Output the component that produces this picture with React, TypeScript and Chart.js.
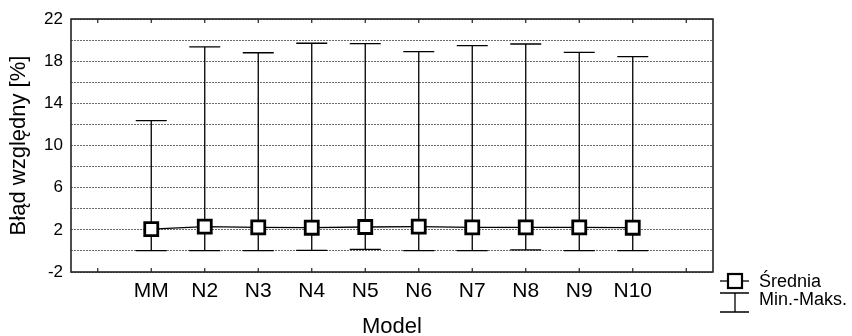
import React, { useEffect, useRef } from "react";
import { Chart, registerables } from "chart.js";

Chart.register(...registerables);

const categories = ["MM", "N2", "N3", "N4", "N5", "N6", "N7", "N8", "N9", "N10"];
const means = [2.06, 2.3, 2.24, 2.2, 2.27, 2.3, 2.24, 2.24, 2.24, 2.2];
const mins = [0.02, 0.02, 0.02, 0.06, 0.15, 0.02, 0.02, 0.09, 0.02, 0.02];
const maxs = [12.36, 19.35, 18.8, 19.7, 19.66, 18.9, 19.47, 19.63, 18.84, 18.43];
const yGridValues = [-2, 0, 2, 4, 6, 8, 10, 12, 14, 16, 18, 20, 22];
const yLabelValues = [-2, 2, 6, 10, 14, 18, 22];
const xTickMarks = [-1, 0, 1, 2, 3, 4, 5, 6, 7, 8, 9, 10];
const legendLabels = ["Średnia", "Min.-Maks."];

const FONT = "'Liberation Sans', Arial, sans-serif";

const customPlugin = {
  id: "custom",
  beforeDatasetsDraw(chart: any) {
    const { ctx, scales } = chart;
    const x = scales.x, y = scales.y;
    ctx.save();
    ctx.strokeStyle = "#000";
    ctx.lineWidth = 1.3;
    categories.forEach((_, i) => {
      const px = x.getPixelForValue(i);
      const top = y.getPixelForValue(maxs[i]);
      const bot = y.getPixelForValue(mins[i]);
      ctx.beginPath();
      ctx.moveTo(px, top);
      ctx.lineTo(px, bot);
      ctx.moveTo(px - 15.5, top);
      ctx.lineTo(px + 15.5, top);
      ctx.moveTo(px - 15.5, bot);
      ctx.lineTo(px + 15.5, bot);
      ctx.stroke();
    });
    ctx.restore();
  },
  afterDraw(chart: any) {
    const { ctx, chartArea, scales } = chart;
    const x = scales.x;
    const { left, right, top, bottom } = chartArea;
    ctx.save();
    ctx.strokeStyle = "#222";
    ctx.lineWidth = 1.6;
    ctx.strokeRect(left, top, right - left, bottom - top);
    ctx.lineWidth = 1.2;
    ctx.beginPath();
    xTickMarks.forEach((v) => {
      const px = x.getPixelForValue(v);
      ctx.moveTo(px, top);
      ctx.lineTo(px, top + 4);
      ctx.moveTo(px, bottom);
      ctx.lineTo(px, bottom - 4);
    });
    ctx.stroke();

    // legend
    const cx = right + 22;
    const y1 = bottom + 9;
    const y2 = bottom + 21;
    const y3 = bottom + 40;
    ctx.strokeStyle = "#000";
    ctx.lineWidth = 1.3;
    ctx.beginPath();
    ctx.moveTo(right + 7, y1);
    ctx.lineTo(right + 36, y1);
    ctx.stroke();
    ctx.fillStyle = "#fff";
    ctx.lineWidth = 2.2;
    ctx.fillRect(cx - 7, y1 - 7, 14, 14);
    ctx.strokeRect(cx - 7, y1 - 7, 14, 14);
    ctx.lineWidth = 1.3;
    ctx.beginPath();
    ctx.moveTo(right + 7, y2);
    ctx.lineTo(right + 36, y2);
    ctx.moveTo(cx, y2);
    ctx.lineTo(cx, y3);
    ctx.moveTo(right + 7, y3);
    ctx.lineTo(right + 36, y3);
    ctx.stroke();
    ctx.fillStyle = "#000";
    ctx.font = `18px ${FONT}`;
    ctx.textBaseline = "middle";
    ctx.textAlign = "left";
    ctx.fillText(legendLabels[0], right + 46, y1 + 1);
    ctx.fillText(legendLabels[1], right + 46, bottom + 28);
    ctx.restore();
  },
};

export default function App() {
  const ref = useRef<HTMLCanvasElement | null>(null);
  useEffect(() => {
    if (!ref.current) return;
    const chart = new Chart(ref.current, {
      type: "line",
      data: {
        datasets: [
          {
            label: legendLabels[0],
            data: means.map((m, i) => ({ x: i, y: m })),
            borderColor: "#000",
            borderWidth: 1.3,
            pointStyle: "rect",
            pointRadius: 9.2,
            pointHoverRadius: 9.2,
            pointBorderWidth: 2.8,
            pointBackgroundColor: "#fff",
            pointBorderColor: "#000",
            tension: 0,
          },
        ],
      },
      options: {
        animation: false,
        responsive: false,
        events: [],
        layout: { padding: { left: 0, top: 19, right: 139, bottom: 0 } },
        plugins: { legend: { display: false }, tooltip: { enabled: false } },
        scales: {
          x: {
            type: "linear",
            min: -1.5,
            max: 10.5,
            afterBuildTicks: (s: any) => {
              s.ticks = categories.map((_, i) => ({ value: i }));
            },
            afterFit: (s: any) => {
              s.height = 64;
            },
            grid: { display: false, drawTicks: false },
            border: { display: false },
            ticks: {
              padding: 7,
              color: "#000",
              font: { family: FONT, size: 21 },
              maxRotation: 0,
              autoSkip: false,
              callback: (v: any) => categories[Math.round(Number(v))] ?? "",
            },
            title: {
              display: true,
              text: "Model",
              color: "#000",
              font: { family: FONT, size: 22, lineHeight: 0.8 },
              padding: { top: 0, bottom: 0 },
            },
          },
          y: {
            type: "linear",
            min: -2,
            max: 22,
            afterBuildTicks: (s: any) => {
              s.ticks = yGridValues.map((v) => ({ value: v }));
            },
            afterFit: (s: any) => {
              s.width = 71;
            },
            grid: { color: "#6a6a6a", lineWidth: 1, drawTicks: false },
            border: { display: false, dash: [2, 1] },
            ticks: {
              padding: 8,
              color: "#000",
              font: { family: FONT, size: 17 },
              autoSkip: false,
              callback: (v: any) => (yLabelValues.includes(Number(v)) ? String(v) : ""),
            },
            title: {
              display: true,
              text: "Błąd względny [%]",
              color: "#000",
              font: { family: FONT, size: 22, lineHeight: 1.2 },
              padding: { top: 6, bottom: 0 },
            },
          },
        },
      },
      plugins: [customPlugin],
    });
    return () => chart.destroy();
  }, []);
  return (
    <div style={{ position: "fixed", left: 0, top: 0, width: 852, height: 336, background: "#fff" }}>
      <canvas ref={ref} width={852} height={336} style={{ width: 852, height: 336, display: "block" }} />
    </div>
  );
}
